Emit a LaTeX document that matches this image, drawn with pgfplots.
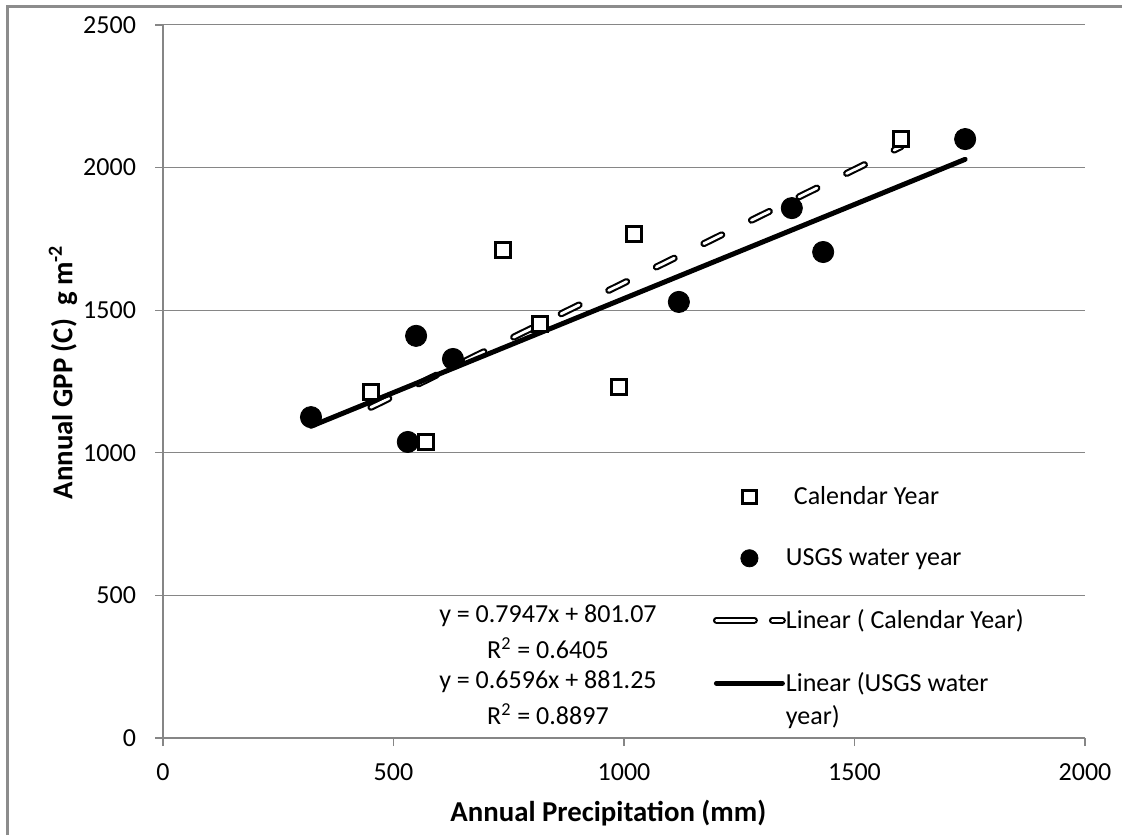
\documentclass[border=0pt]{standalone}
\usepackage{fontspec}
\setmainfont{Carlito}
\usepackage{pgfplots}
\pgfplotsset{compat=1.18}
\definecolor{axgray}{HTML}{868686}
\definecolor{framegray}{HTML}{8C8C8C}

\begin{document}
\begin{tikzpicture}
\useasboundingbox (0,0) rectangle (561pt,417.5pt);
\draw[framegray,line width=1.5pt] (3.5pt,0) -- (3.5pt,414pt) -- (561pt,414pt);
\begin{axis}[
  at={(81.5pt,48.5pt)},anchor=south west,
  scale only axis,width=461pt,height=356.5pt,
  xmin=0,xmax=2000,ymin=0,ymax=2500,
  xtick={0,500,...,2000},ytick={0,500,...,2500},
  axis x line*=bottom,axis y line*=left,
  axis line style={axgray,line width=0.6pt},
  tick style={axgray,line width=0.6pt},
  tick align=outside,major tick length=4pt,
  ymajorgrids,grid style={axgray,line width=0.5pt},
  font=\fontsize{13}{15.5}\selectfont,
  /pgf/number format/assume math mode=true,
  /pgf/number format/set thousands separator={},
  ticklabel style={font=\fontsize{13}{15.5}\selectfont,text=black},
  xticklabel style={yshift=-5.5pt},
  yticklabel style={xshift=-6pt},
  xlabel={Annual Precipitation (mm)},
  ylabel={Annual GPP (C)\ \ g m\textsuperscript{-2}},
  every axis x label/.style={at={(rel axis cs:0.483,0)},yshift=-37.5pt,anchor=center,font=\fontsize{14.4}{17}\selectfont\bfseries},
  every axis y label/.style={at={(rel axis cs:0,0.513)},xshift=-50pt,rotate=90,anchor=center,font=\fontsize{14.4}{17}\selectfont\bfseries},
  legend image code/.code={\draw[mark repeat=2,mark phase=2,#1] plot coordinates {(0pt,0pt)(16.5pt,0pt)(33pt,0pt)};},
  legend style={at={(axis cs:1192,884)},anchor=north west,draw=none,fill=none,
    inner sep=0pt,row sep=20.5pt,column sep=0pt,
    nodes={inner sep=0pt},
    font=\fontsize{13}{16.5}\selectfont},
  legend cell align=left,
  clip=false
]
\addplot[only marks,mark=square*,mark size=3.75pt,
  mark options={draw=black,fill=white,line width=1.5pt},
  legend image post style={mark size=3.4pt}]
  coordinates {(451,1213) (570,1038) (738,1711) (818,1452) (989,1231) (1022,1767) (1601,2100)};
\addlegendentry{\hspace{4pt}Calendar Year}
\addplot[only marks,mark=*,mark size=5.3pt,mark options={black,fill=black},
  legend image post style={mark size=4.3pt}]
  coordinates {(321,1125) (531,1038) (549,1410) (629,1329) (1119,1529) (1364,1858) (1432,1704) (1740,2100)};
\addlegendentry{USGS water year}
\addplot[draw=white,line width=1.4pt,line cap=round,dash pattern=on 10pt off 16.5pt,
  preaction={draw=black,line width=3.5pt},
  legend image post style={dash pattern=on 19pt off 9pt}]
  coordinates {(451,1159.5) (1601,2073.4)};
\addlegendentry{Linear ( Calendar Year)}
\addplot[black,line width=2.5pt,line cap=round]
  coordinates {(321,1093) (1740,2029)};
\addlegendentry{\vtop{\hbox{Linear (USGS water}\hbox{year)}}}
\node[align=center,font=\fontsize{13}{15.5}\selectfont] at (axis cs:835,373)
  {y = 0.7947x + 801.07\\[2.5pt]R\textsuperscript{2} = 0.6405};
\node[align=center,font=\fontsize{13}{15.5}\selectfont] at (axis cs:835,142)
  {y = 0.6596x + 881.25\\[2.5pt]R\textsuperscript{2} = 0.8897};
\end{axis}
\end{tikzpicture}
\end{document}
